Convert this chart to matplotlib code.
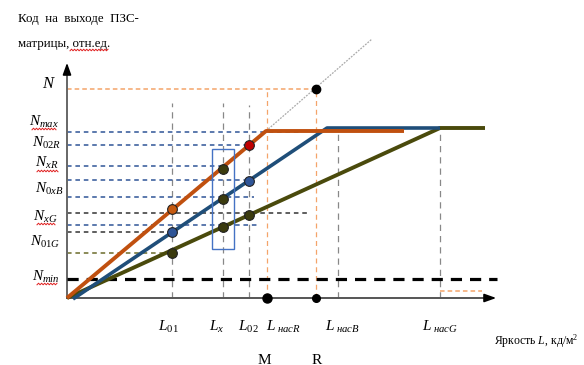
import matplotlib
matplotlib.use('Agg')
import matplotlib.pyplot as plt
from matplotlib.patches import Rectangle
import numpy as np

plt.rcParams['mathtext.fontset'] = 'custom'
plt.rcParams['mathtext.it'] = 'Liberation Serif:italic'
plt.rcParams['mathtext.rm'] = 'Liberation Serif'
plt.rcParams['font.family'] = ['Liberation Serif', 'DejaVu Serif']

# ---- schematic data (relative units: brightness L -> code N) ----
curve_R_L = [0, 199, 337]
curve_R_N = [0, 167, 167]
curve_B_L = [6, 260, 373]
curve_B_N = [-1, 170, 170]
curve_G_L = [0, 373, 418]
curve_G_N = [0, 170, 170]
extrap_L = [199, 305]
extrap_N = [167, 259]

L01, Lx, L02, LnasR, LR, LnasB, LnasG = 105, 156, 182, 200, 249, 271, 373
N_top, N_min = 209, 19

# horizontal guide levels: (N level, L end, colour key)
h_levels = [166.5, 153, 132, 118, 101, 85, 73, 66, 45]
h_ends = [233, 182, 156, 187, 187, 241, 190, 105, 105]
h_cols = ['b', 'b', 'b', 'b', 'b', 'k', 'b', 'k', 'g']

# points on curves
pts_L = [L01, L01, L01, Lx, Lx, Lx, L02, L02, L02]
pts_N = [89, 66, 45, 129, 99, 71, 153, 117, 83]
pts_c = ['#C55A11', '#2F5597', '#3B3B0E', '#3B3B0E', '#3B3B0E', '#3B3B0E', '#C00000', '#2F5597', '#3B3B0E']

left_labels = [('N', '', 84), ('N', 'max', 122), ('N', '02R', 143), ('N', 'xR', 163),
               ('N', '0xB', 189), ('N', 'xG', 217), ('N', '01G', 242), ('N', 'min', 277)]
left_x = [49, 44, 47, 47, 49, 45, 45, 46]
bottom_labels = [('L', '01'), ('L', 'x'), ('L', '02'), ('L', ' насR'), ('L', ' насB'), ('L', ' насG')]
bottom_x = [168, 217, 248, 283, 342, 440]

C_R = '#C0500F'
C_B = '#1F4E79'
C_G = '#4A4A0C'
C_Bd = '#2F5597'
cmap = {'b': C_Bd, 'k': '#333333', 'g': '#6B6B2A'}

X0, Y0 = 67, 298  # origin in pixels

fig = plt.figure(figsize=(5.84, 3.65), dpi=100)
ax = fig.add_axes([0, 0, 1, 1])
ax.set_xlim(-X0, 584 - X0)
ax.set_ylim(Y0 - 365, Y0)
ax.axis('off')


def P(px, py):
    return px - X0, Y0 - py


# axes
ax.plot([0, 0], [0, 230], color='#666666', lw=1.4, zorder=2)
ax.annotate('', xy=(0, 238), xytext=(0, 222),
            arrowprops=dict(arrowstyle='-|>,head_width=0.25,head_length=0.7', color='black', lw=1.2))
ax.plot([0, 422], [0, 0], color='#555555', lw=1.4, zorder=2)
ax.annotate('', xy=(432, 0), xytext=(416, 0),
            arrowprops=dict(arrowstyle='-|>,head_width=0.25,head_length=0.7', color='black', lw=1.2))

# vertical guides
for L, top in [(L01, 195), (Lx, 195), (L02, 193)]:
    ax.plot([L, L], [0, top], color='#888888', lw=0.9, ls=(0, (5, 4)), zorder=1)
for L, top in [(LnasB, 170), (LnasG, 170)]:
    ax.plot([L, L], [0, top], color='#888888', lw=0.9, ls=(0, (5, 4)), zorder=1)
for L in [LnasR, LR]:
    ax.plot([L, L], [0, N_top], color='#F4A46A', lw=0.9, ls=(0, (4, 3)), zorder=1)
ax.plot([0, LR], [N_top, N_top], color='#F4A46A', lw=1.1, ls=(0, (3, 2)), zorder=1)
ax.plot([LnasG, 415], [7, 7], color='#F4A46A', lw=1.1, ls=(0, (3, 2)), zorder=1)

# horizontal guides
for n, le, c in zip(h_levels, h_ends, h_cols):
    ax.plot([0, le], [n, n], color=cmap[c], lw=1.1, ls=(0, (3, 2.5)), zorder=1)
ax.plot([0, 430], [N_min, N_min], color='black', lw=2.3, ls=(0, (3.5, 2.5)), zorder=2)

# extrapolation
ax.plot(extrap_L, extrap_N, color='#AAAAAA', lw=0.9, ls=(0, (1.5, 1)), zorder=1)

# curves
ax.plot(curve_G_L, curve_G_N, color=C_G, lw=2.8, solid_capstyle='butt', zorder=3)
ax.plot(curve_B_L, curve_B_N, color=C_B, lw=2.6, solid_capstyle='butt', zorder=4)
ax.plot(curve_R_L, curve_R_N, color=C_R, lw=2.8, solid_capstyle='butt', zorder=5)

# rectangle
ax.add_patch(Rectangle((145, 49), 22, 100, fill=False, ec='#4472C4', lw=1.0, zorder=6))

# points
for L, N, c in zip(pts_L, pts_N, pts_c):
    ax.plot(L, N, 'o', ms=7, mfc=c, mec='#222222', mew=0.8, zorder=7)
ax.plot(LR, N_top, 'o', ms=6, color='black', zorder=7)
ax.plot(LnasR, 0, 'o', ms=6.5, color='black', zorder=7)
ax.plot(LR, 0, 'o', ms=5.5, color='black', zorder=7)


def squiggle(x1, x2, py):
    xs = np.linspace(x1, x2, int((x2 - x1) / 1.5) + 1)
    ys = py + 0.8 * np.where(np.arange(len(xs)) % 2 == 0, 1, -1)
    ax.plot([x - X0 for x in xs], [Y0 - y for y in ys], color='#E02020', lw=0.7, zorder=8)


# left labels
for (m, s, py), px in zip(left_labels, left_x):
    txt = r'$\mathit{%s}$' % m if not s else r'$%s_{%s}$' % (m, s)
    x, y = P(px, py)
    ax.text(x, y, txt, ha='center', va='center', fontsize=12 if not s else 11)
for x1, x2, py in [(32, 56, 129), (37, 58, 171), (37, 55, 224), (37, 57, 284), (70, 108, 50)]:
    squiggle(x1, x2, py)

# bottom labels
for (m, s), px in zip(bottom_labels, bottom_x):
    sub = s.replace(' ', r'\ ')
    x, y = P(px, 327)
    ax.text(x, y, r'$%s_{%s}$' % (m, sub), ha='center', va='center', fontsize=11)
x, y = P(264, 360)
ax.text(x, y, 'M', ha='center', va='center', fontsize=11)
x, y = P(317, 360)
ax.text(x, y, 'R', ha='center', va='center', fontsize=11)

x, y = P(578, 341)
ax.text(x, y, r'Яркость $\mathit{L}$, кд/м$^{2}$', ha='right', va='center', fontsize=8.5)

x, y = P(18, 19)
ax.text(x, y, 'Код  на  выходе  ПЗС-', ha='left', va='center', fontsize=9.3)
x, y = P(18, 44)
ax.text(x, y, 'матрицы, отн.ед.', ha='left', va='center', fontsize=9.3)

fig.savefig('out.png', dpi=100)
